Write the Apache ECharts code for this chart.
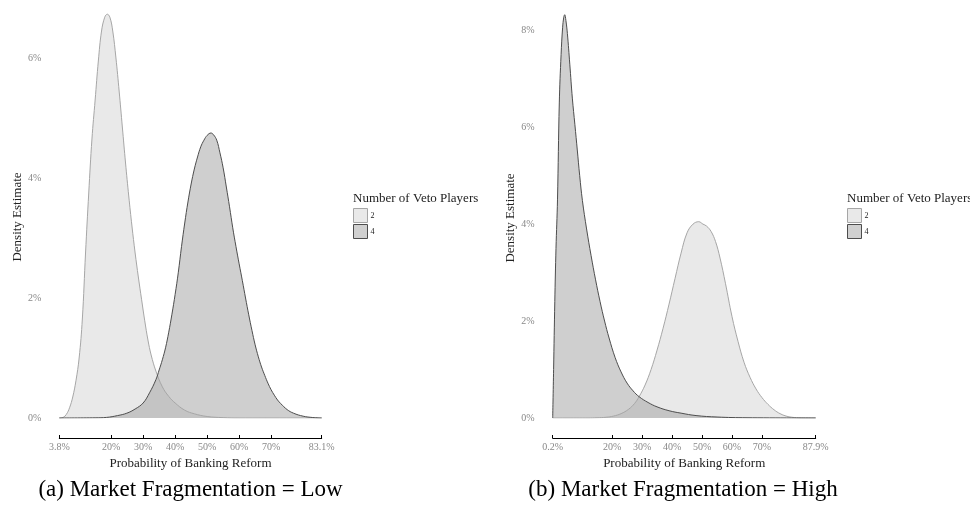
<!DOCTYPE html>
<html>
<head>
<meta charset="utf-8">
<script src="https://cdn.jsdelivr.net/npm/echarts@6/dist/echarts.min.js"></script>
<style>
html,body{margin:0;padding:0;background:#fff;}
#chart{width:970px;height:513px;}
</style>
</head>
<body>
<div id="chart"></div>
<script>
// ---------- DATA ----------
// Panel (a): Market Fragmentation = Low
const aX2 = [3.8, 5.0, 6.0, 7.0, 8.0, 9.0, 10.0, 11.0, 12.0, 13.0, 14.0, 15.0, 16.0, 17.0, 18.0, 18.8, 19.6, 20.5, 21.5, 22.5, 23.5, 24.5, 25.5, 26.5, 27.5, 28.5, 29.5, 30.5, 31.5, 32.5, 34.0, 36.0, 38.0, 40.0, 43.0, 46.0, 50.0, 55.0, 60.0, 85.8];
const aY2 = [0, 0.01, 0.06, 0.17, 0.35, 0.62, 1.0, 1.65, 2.75, 3.75, 4.65, 5.3, 5.95, 6.45, 6.68, 6.73, 6.68, 6.45, 6.0, 5.45, 4.85, 4.25, 3.7, 3.2, 2.75, 2.35, 1.98, 1.62, 1.3, 1.05, 0.78, 0.52, 0.36, 0.25, 0.13, 0.07, 0.025, 0.006, 0, 0];
const aX4 = [3.8, 15.0, 18.6, 22.0, 24.9, 27.5, 30.0, 32.0, 34.0, 35.0, 36.0, 37.0, 38.0, 39.0, 40.0, 41.0, 42.0, 43.0, 44.0, 45.0, 46.0, 47.0, 48.0, 49.0, 50.0, 51.2, 52.0, 53.0, 54.0, 55.0, 56.0, 57.0, 58.0, 59.0, 60.0, 61.0, 62.0, 63.0, 64.0, 65.0, 66.0, 67.0, 68.0, 69.0, 70.0, 71.0, 72.0, 73.0, 75.0, 77.0, 80.0, 83.0, 85.8];
const aY4 = [0, 0.003, 0.01, 0.04, 0.08, 0.15, 0.25, 0.42, 0.64, 0.8, 0.97, 1.17, 1.43, 1.73, 2.06, 2.43, 2.86, 3.25, 3.6, 3.9, 4.15, 4.35, 4.52, 4.63, 4.71, 4.75, 4.72, 4.63, 4.42, 4.17, 3.85, 3.52, 3.17, 2.86, 2.57, 2.29, 2.0, 1.72, 1.46, 1.22, 1.02, 0.85, 0.71, 0.58, 0.47, 0.38, 0.3, 0.24, 0.14, 0.08, 0.03, 0.008, 0];
// Panel (b): Market Fragmentation = High
const bX2 = [0.2, 12.0, 15.0, 18.0, 20.5, 23.0, 25.5, 27.5, 29.0, 31.0, 33.0, 35.0, 37.0, 39.0, 41.0, 43.0, 45.0, 47.0, 48.9, 50.3, 51.5, 53.0, 54.5, 56.0, 57.8, 60.0, 62.0, 64.0, 66.0, 68.0, 70.0, 72.0, 74.0, 76.0, 78.0, 80.0, 83.0, 87.9];
const bY2 = [0, 0, 0.005, 0.015, 0.04, 0.09, 0.18, 0.3, 0.44, 0.68, 1.0, 1.4, 1.85, 2.35, 2.88, 3.4, 3.82, 4.0, 4.05, 4.0, 3.96, 3.85, 3.64, 3.3, 2.78, 2.09, 1.58, 1.15, 0.84, 0.6, 0.42, 0.28, 0.17, 0.09, 0.04, 0.015, 0.003, 0];
const bX4 = [0.2, 0.5, 0.9, 1.3, 1.8, 2.4, 3.0, 3.5, 3.9, 4.2, 4.6, 5.1, 5.9, 6.75, 7.6, 8.4, 9.2, 10.1, 11.5, 13.0, 14.5, 16.0, 17.5, 19.0, 21.0, 23.0, 25.0, 27.0, 29.0, 32.0, 35.0, 39.0, 43.0, 48.0, 55.0, 65.0, 87.9];
const bY4 = [0, 1.0, 2.4, 3.5, 4.5, 6.5, 7.5, 8.05, 8.27, 8.32, 8.2, 7.93, 7.3, 6.6, 6.05, 5.53, 5.0, 4.49, 3.9, 3.35, 2.85, 2.4, 2.0, 1.65, 1.25, 0.95, 0.72, 0.56, 0.44, 0.32, 0.23, 0.15, 0.1, 0.05, 0.02, 0.005, 0];

const seriesNames = ['2', '4'];
const aTicks = [3.8, 20, 30, 40, 50, 60, 70, 85.8];
const aTickLabels = ['3.8%', '20%', '30%', '40%', '50%', '60%', '70%', '83.1%'];
const bTicks = [0.2, 20, 30, 40, 50, 60, 70, 87.9];
const bTickLabels = ['0.2%', '20%', '30%', '40%', '50%', '60%', '70%', '87.9%'];
const aYTicks = [0, 2, 4, 6];
const bYTicks = [0, 2, 4, 6, 8];
const xTitle = 'Probability of Banking Reform';
const yTitle = 'Density Estimate';
const legendTitle = 'Number of Veto Players';
const captions = ['(a) Market Fragmentation = Low', '(b) Market Fragmentation = High'];

// ---------- CHART ----------
const FONT = 'Liberation Serif';
function pairs(xs, ys) { return xs.map((x, i) => [x, ys[i]]); }
function lookup(ticks, labels) {
  return function (v) {
    for (let i = 0; i < ticks.length; i++) if (Math.abs(ticks[i] - v) < 1e-6) return labels[i];
    return '';
  };
}
const fill = { '2': 'rgba(211,211,211,0.5)', '4': 'rgba(160,160,160,0.5)' };
const stroke = { '2': '#a6a6a6', '4': '#4d4d4d' };
const legendSolid = { '2': '#e9e9e9', '4': '#d0d0d0' };

function xAxis(grid, min, max, ticks, labels) {
  return {
    gridIndex: grid, type: 'value', min: min, max: max, offset: 20,
    axisLine: { show: true, onZero: false, lineStyle: { color: '#000', width: 1 } },
    axisTick: { show: true, inside: true, length: 3, customValues: ticks, lineStyle: { color: '#000' } },
    axisLabel: { customValues: ticks, formatter: lookup(ticks, labels), color: '#888', fontSize: 10, fontFamily: FONT, margin: 4 },
    splitLine: { show: false },
    name: xTitle, nameLocation: 'middle', nameGap: 18,
    nameTextStyle: { color: '#222', fontSize: 13, fontFamily: FONT }
  };
}
function yAxis(grid, max, ticks) {
  return {
    gridIndex: grid, type: 'value', min: 0, max: max,
    axisLine: { show: false }, axisTick: { show: false }, splitLine: { show: false },
    axisLabel: { customValues: ticks, formatter: '{value}%', color: '#888', fontSize: 10, fontFamily: FONT, margin: 18 },
    name: yTitle, nameLocation: 'middle', nameGap: 35,
    nameTextStyle: { color: '#222', fontSize: 13, fontFamily: FONT, padding: [0, 12, 0, 0] }
  };
}
function area(name, grid, xs, ys) {
  return {
    type: 'line', name: name, xAxisIndex: grid, yAxisIndex: grid,
    data: pairs(xs, ys), symbol: 'none', showSymbol: false, smooth: 0.4,
    lineStyle: { color: stroke[name], width: 1 },
    itemStyle: { color: legendSolid[name] },
    areaStyle: { color: fill[name], opacity: 1 },
    silent: true, animation: false
  };
}
function legend(left) {
  return {
    left: left, top: 208, orient: 'vertical', icon: 'rect',
    itemWidth: 14, itemHeight: 14, itemGap: 1, selectedMode: false,
    textStyle: { fontSize: 8, fontFamily: FONT, color: '#222', padding: [0, 0, 0, -2] },
    padding: 0,
    data: seriesNames.map(n => ({ name: n, itemStyle: { color: legendSolid[n], borderColor: stroke[n], borderWidth: 1 } }))
  };
}

const chart = echarts.init(document.getElementById('chart'), null, { renderer: 'canvas' });
chart.setOption({
  animation: false,
  backgroundColor: '#fff',
  grid: [
    { left: 59.3, top: 4, width: 262.4, height: 414 },
    { left: 552.7, top: 6, width: 263, height: 412 }
  ],
  xAxis: [xAxis(0, 3.8, 85.8, aTicks, aTickLabels), xAxis(1, 0.2, 87.9, bTicks, bTickLabels)],
  yAxis: [yAxis(0, 6.9, aYTicks), yAxis(1, 8.5, bYTicks)],
  legend: [legend(353), legend(847)],
  series: [
    area('2', 0, aX2, aY2), area('4', 0, aX4, aY4),
    area('2', 1, bX2, bY2), area('4', 1, bX4, bY4)
  ],
  graphic: [
    { type: 'text', left: 353, top: 192, silent: true, style: { text: legendTitle, font: '13px "Liberation Serif"', fill: '#222' } },
    { type: 'text', left: 847, top: 192, silent: true, style: { text: legendTitle, font: '13px "Liberation Serif"', fill: '#222' } },
    { type: 'text', x: 190.5, y: 490, silent: true, style: { text: captions[0], font: '23px "Liberation Serif"', fill: '#000', align: 'center', verticalAlign: 'middle' } },
    { type: 'text', x: 683, y: 490, silent: true, style: { text: captions[1], font: '23px "Liberation Serif"', fill: '#000', align: 'center', verticalAlign: 'middle' } }
  ]
});
</script>
</body>
</html>
